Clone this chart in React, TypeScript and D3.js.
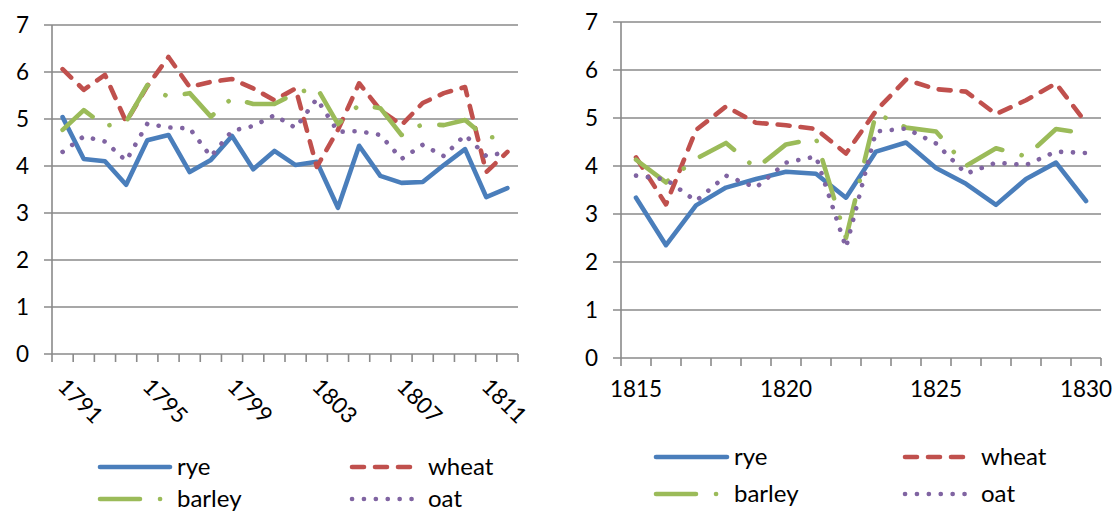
import React from "react";
import * as d3 from "d3";

const yearsA = d3.range(1791, 1813).map(String);
const ryeA = [5.04, 4.15, 4.1, 3.6, 4.55, 4.66, 3.87, 4.13, 4.64, 3.93, 4.32, 4.02, 4.09, 3.11, 4.43, 3.79, 3.64, 3.66, 4.02, 4.36, 3.34, 3.53];
const wheatA = [6.06, 5.62, 5.94, 4.94, 5.7, 6.32, 5.68, 5.79, 5.85, 5.65, 5.4, 5.65, 3.98, 4.77, 5.76, 5.19, 4.87, 5.34, 5.55, 5.68, 3.87, 4.3];
const barleyA = [4.77, 5.19, 4.85, 4.94, 5.72, 5.47, 5.55, 5.05, 5.44, 5.32, 5.32, 5.55, 5.67, 4.89, 5.3, 5.23, 4.66, 4.89, 4.87, 4.98, 4.6, 4.64];
const oatA = [4.3, 4.63, 4.52, 4.11, 4.9, 4.82, 4.8, 4.2, 4.75, 4.85, 5.08, 4.81, 5.43, 4.73, 4.74, 4.66, 4.15, 4.45, 4.21, 4.66, 4.21, 4.3];
const labelsA = ["1791", "1795", "1799", "1803", "1807", "1811"];

const yearsB = d3.range(1815, 1831).map(String);
const ryeB = [3.34, 2.35, 3.18, 3.55, 3.73, 3.88, 3.84, 3.34, 4.3, 4.49, 3.96, 3.63, 3.19, 3.73, 4.07, 3.27];
const wheatB = [4.18, 3.2, 4.75, 5.24, 4.9, 4.85, 4.77, 4.26, 5.15, 5.8, 5.6, 5.55, 5.08, 5.37, 5.72, 4.9];
const barleyB = [4.13, 3.66, 4.15, 4.48, 3.95, 4.45, 4.57, 2.5, 5.1, 4.8, 4.72, 4.0, 4.37, 4.2, 4.77, 4.68];
const oatB = [3.8, 3.72, 3.27, 3.8, 3.55, 4.07, 4.2, 2.3, 4.72, 4.78, 4.47, 3.84, 4.07, 4.02, 4.3, 4.27];
const labelsB = ["1815", "1820", "1825", "1830"];

const yTicks = [0, 1, 2, 3, 4, 5, 6, 7];
const seriesNames = ["rye", "wheat", "barley", "oat"];

const COLORS: Record<string, string> = {
  rye: "#4A7EBB",
  wheat: "#C0504D",
  barley: "#9BBB59",
  oat: "#8064A2",
};
const DASH: Record<string, string | undefined> = {
  rye: undefined,
  wheat: "12 11",
  barley: "40 20 0.1 20",
  oat: "0.1 11.8",
};
const GRID = "#8a8a8a";
const FONT = "Lato, 'Open Sans', sans-serif";
const LW = 4.6;

type PanelProps = {
  years: string[];
  data: Record<string, number[]>;
  labels: string[];
  x0: number;
  x1: number;
  yTop: number;
  yBot: number;
  rotated: boolean;
  legend: { lx: number[]; ly: number[]; len: number[] };
};

function Panel({ years, data, labels, x0, x1, yTop, yBot, rotated, legend }: PanelProps) {
  const x = d3.scaleBand<string>().domain(years).range([x0, x1]).paddingInner(0).paddingOuter(0);
  const y = d3.scaleLinear().domain([0, 7]).range([yBot, yTop]);
  const bw = x.bandwidth();
  const cx = (c: string) => (x(c) as number) + bw / 2;
  const line = d3
    .line<number>()
    .x((_, i) => cx(years[i]))
    .y((d) => y(d));
  const boundaries = d3.range(years.length + 1).map((i) => x0 + i * bw);
  return (
    <g>
      {yTicks.map((t) => (
        <g key={"g" + t}>
          <line x1={x0 - 8} x2={x1} y1={y(t)} y2={y(t)} stroke={GRID} strokeWidth={1.6} />
          <text x={x0 - 23} y={y(t)} dy="0.35em" textAnchor="end" fontSize={22.5} fontFamily={FONT} fill="#000">
            {t}
          </text>
        </g>
      ))}
      <line x1={x0} x2={x0} y1={yTop} y2={yBot} stroke={GRID} strokeWidth={1.6} />
      {boundaries.map((bx, i) => (
        <line key={"tk" + i} x1={bx} x2={bx} y1={yBot} y2={yBot + 8} stroke={GRID} strokeWidth={1.6} />
      ))}
      {labels.map((l) =>
        rotated ? (
          <text
            key={l}
            transform={`translate(${cx(l) + 18},${yBot + 47}) rotate(45)`}
            textAnchor="middle"
            dy="0.35em"
            fontSize={22.5}
            fontFamily={FONT}
          >
            {l}
          </text>
        ) : (
          <text key={l} x={cx(l)} y={yBot + 31} dy="0.35em" textAnchor="middle" fontSize={22.5} fontFamily={FONT}>
            {l}
          </text>
        )
      )}
      {seriesNames.map((s) => (
        <path
          key={s}
          d={line(data[s]) || ""}
          fill="none"
          stroke={COLORS[s]}
          strokeWidth={LW}
          strokeDasharray={DASH[s]}
          strokeLinecap="round"
          strokeLinejoin="round"
        />
      ))}
      {seriesNames.map((s, i) => {
        const col = i % 2;
        const row = Math.floor(i / 2);
        const lx = legend.lx[col];
        const ly = legend.ly[row];
        const len = legend.len[col];
        return (
          <g key={"lg" + s}>
            <line
              x1={lx}
              x2={lx + len}
              y1={ly}
              y2={ly}
              stroke={COLORS[s]}
              strokeWidth={LW}
              strokeDasharray={DASH[s]}
              strokeLinecap="round"
            />
            <text x={lx + len + (col === 0 ? 7 : 14)} y={ly} dy="0.35em" fontSize={24} fontFamily={FONT}>
              {s}
            </text>
          </g>
        );
      })}
    </g>
  );
}

export default function App() {
  return (
    <div style={{ position: "absolute", left: 0, top: 0 }}>
      <svg width={1116} height={511} style={{ display: "block", background: "#fff" }}>
        <Panel
          years={yearsA}
          data={{ rye: ryeA, wheat: wheatA, barley: barleyA, oat: oatA }}
          labels={labelsA}
          x0={52}
          x1={518}
          yTop={25}
          yBot={354}
          rotated={true}
          legend={{ lx: [100, 352], ly: [467, 499], len: [70, 62] }}
        />
        <Panel
          years={yearsB}
          data={{ rye: ryeB, wheat: wheatB, barley: barleyB, oat: oatB }}
          labels={labelsB}
          x0={621}
          x1={1101}
          yTop={22}
          yBot={358}
          rotated={false}
          legend={{ lx: [656, 905], ly: [457, 494], len: [71, 62] }}
        />
      </svg>
    </div>
  );
}
